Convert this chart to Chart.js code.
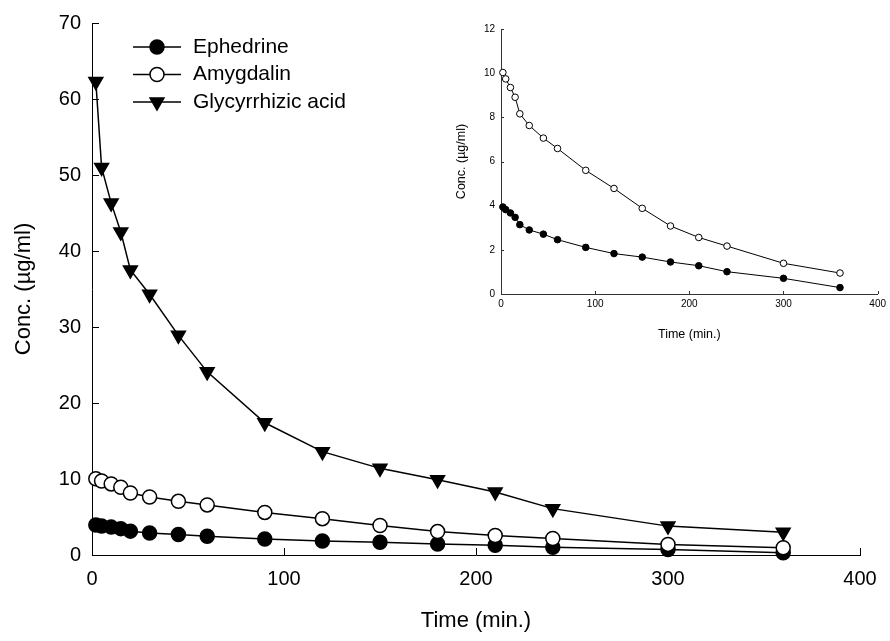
<!DOCTYPE html>
<html>
<head>
<meta charset="utf-8">
<script src="https://cdn.jsdelivr.net/npm/chart.js@4.4.0/dist/chart.umd.min.js"></script>
<style>
  html, body { margin: 0; padding: 0; background: #fff; }
  #wrap { position: relative; width: 890px; height: 641px; }
  #main { position: absolute; left: 0; top: 0; width: 890px; height: 641px; }
  #inset { position: absolute; left: 440px; top: 0; width: 450px; height: 350px; }
</style>
</head>
<body>
<div id="wrap">
  <canvas id="main" width="890" height="641"></canvas>
  <canvas id="inset" width="450" height="350"></canvas>
</div>
<script>
// Sampling times (min.) and plasma concentrations (ug/ml).
const times = [2, 5, 10, 15, 20, 30, 45, 60, 90, 120, 150, 180, 210, 240, 300, 360];
const ephedrine = [3.94, 3.82, 3.67, 3.47, 3.14, 2.9, 2.71, 2.46, 2.11, 1.83, 1.67, 1.45, 1.28, 1.01, 0.71, 0.29];
const amygdalin = [10.03, 9.74, 9.35, 8.91, 8.16, 7.63, 7.06, 6.59, 5.6, 4.78, 3.88, 3.08, 2.56, 2.17, 1.39, 0.95];
const glycyrrhizic = [62.3, 51.0, 46.3, 42.5, 37.5, 34.3, 28.9, 24.1, 17.4, 13.6, 11.4, 9.9, 8.3, 6.1, 3.8, 3.0];

const seriesNames = ['Ephedrine', 'Amygdalin', 'Glycyrrhizic acid'];
const xRange = [0, 400, 100];
const mainYRange = [0, 70, 10];
const insetYRange = [0, 12, 2];

const FONT = '"Liberation Sans", Arial, sans-serif';

// Ticks in this figure point into the plot area.
const innerTicks = {
  id: 'innerTicks',
  beforeDatasetsDraw(chart, args, opts) {
    const { ctx, chartArea, scales } = chart;
    ctx.save();
    ctx.strokeStyle = opts.color;
    ctx.lineWidth = 1;
    ctx.beginPath();
    scales.x.ticks.forEach((tick) => {
      const x = Math.round(scales.x.getPixelForValue(tick.value)) + 0.5;
      ctx.moveTo(x, chartArea.bottom);
      ctx.lineTo(x, chartArea.bottom - opts.length);
    });
    scales.y.ticks.forEach((tick) => {
      const y = Math.round(scales.y.getPixelForValue(tick.value)) + 0.5;
      ctx.moveTo(chartArea.left, y);
      ctx.lineTo(chartArea.left + opts.length, y);
    });
    ctx.stroke();
    ctx.restore();
  },
};

// Legend drawn as line + marker, like the original figure.
const lineLegend = {
  id: 'lineLegend',
  afterDraw(chart, args, opts) {
    if (!opts.display) return;
    const { ctx } = chart;
    ctx.save();
    chart.data.datasets.forEach((ds, i) => {
      const y = opts.top + i * opts.rowGap;
      ctx.strokeStyle = ds.borderColor;
      ctx.lineWidth = ds.borderWidth;
      ctx.beginPath();
      ctx.moveTo(opts.left, y);
      ctx.lineTo(opts.left + opts.lineLength, y);
      ctx.stroke();

      ctx.fillStyle = ds.pointBackgroundColor;
      ctx.strokeStyle = ds.pointBorderColor;
      ctx.lineWidth = ds.pointBorderWidth;
      Chart.helpers.drawPoint(ctx, {
        pointStyle: ds.pointStyle,
        rotation: ds.pointRotation || 0,
        radius: ds.pointRadius,
        borderWidth: ds.pointBorderWidth,
      }, opts.left + opts.lineLength / 2, y);

      ctx.fillStyle = '#000';
      ctx.font = `${opts.fontSize}px ${FONT}`;
      ctx.textBaseline = 'middle';
      ctx.fillText(ds.label, opts.textX, y);
    });
    ctx.restore();
  },
};

function makeDatasets(series, scale) {
  const styles = [
    { pointStyle: 'circle', pointBackgroundColor: '#000', radius: 7 * scale, rotation: 0, order: 3 },
    { pointStyle: 'circle', pointBackgroundColor: '#fff', radius: 7 * scale, rotation: 0, order: 2 },
    { pointStyle: 'triangle', pointBackgroundColor: '#000', radius: 8 * scale, rotation: 180, order: 1 },
  ];
  return series.map(([name, values], i) => ({
    label: name,
    data: times.map((t, k) => ({ x: t, y: values[k] })),
    borderColor: '#000',
    borderWidth: scale === 1 ? 1.5 : 1,
    pointStyle: styles[i].pointStyle,
    pointRotation: styles[i].rotation,
    pointRadius: styles[i].radius,
    pointBackgroundColor: styles[i].pointBackgroundColor,
    pointBorderColor: '#000',
    pointBorderWidth: scale === 1 ? 1.5 : 1,
    order: styles[i].order,
    tension: 0,
    clip: false,
  }));
}

function axis(range, o) {
  return {
    type: 'linear',
    min: range[0],
    max: range[1],
    ticks: { stepSize: range[2], autoSkip: false, color: '#000', padding: o.tickPad, font: { family: FONT, size: o.tickSize } },
    grid: { display: false, drawTicks: false, tickLength: 0 },
    border: { color: o.axisColor, width: 1 },
    title: { display: true, text: o.title, color: '#000', font: { family: FONT, size: o.titleSize }, padding: o.titlePad },
    afterFit: o.fit,
  };
}

new Chart(document.getElementById('main'), {
  type: 'line',
  data: {
    datasets: makeDatasets([
      [seriesNames[0], ephedrine],
      [seriesNames[1], amygdalin],
      [seriesNames[2], glycyrrhizic],
    ], 1),
  },
  options: {
    responsive: false,
    animation: false,
    events: [],
    layout: { padding: { top: 16, right: 30, bottom: 0, left: 0 } },
    plugins: {
      legend: { display: false },
      tooltip: { enabled: false },
      innerTicks: { length: 7, color: '#000' },
      lineLegend: { display: true, left: 133, lineLength: 48, textX: 193, top: 47, rowGap: 27.5, fontSize: 21 },
    },
    scales: {
      x: axis(xRange, {
        tickPad: 12, tickSize: 20, axisColor: '#000', title: 'Time (min.)', titleSize: 22,
        titlePad: { top: 0, bottom: 7 }, fit: (s) => { s.height = 86; },
      }),
      y: axis(mainYRange, {
        tickPad: 11, tickSize: 20, axisColor: '#000', title: 'Conc. (\u00b5g/ml)', titleSize: 22,
        titlePad: { top: 11, bottom: 0 }, fit: (s) => { s.width = 92; },
      }),
    },
  },
  plugins: [innerTicks, lineLegend],
});

new Chart(document.getElementById('inset'), {
  type: 'line',
  data: {
    datasets: makeDatasets([
      [seriesNames[0], ephedrine],
      [seriesNames[1], amygdalin],
    ], 0.47),
  },
  options: {
    responsive: false,
    animation: false,
    events: [],
    layout: { padding: { top: 29, right: 11, bottom: 0, left: 0 } },
    plugins: {
      legend: { display: false },
      tooltip: { enabled: false },
      innerTicks: { length: 3, color: '#333' },
      lineLegend: { display: false },
    },
    scales: {
      x: axis(xRange, {
        tickPad: 4, tickSize: 10, axisColor: '#333', title: 'Time (min.)', titleSize: 12.5,
        titlePad: { top: 0, bottom: 8 }, fit: (s) => { s.height = 56; },
      }),
      y: axis(insetYRange, {
        tickPad: 6, tickSize: 10, axisColor: '#333', title: 'Conc. (\u00b5g/ml)', titleSize: 12.5,
        titlePad: { top: 14.5, bottom: 0 }, fit: (s) => { s.width = 61; },
      }),
    },
  },
  plugins: [innerTicks, lineLegend],
});
</script>
</body>
</html>
